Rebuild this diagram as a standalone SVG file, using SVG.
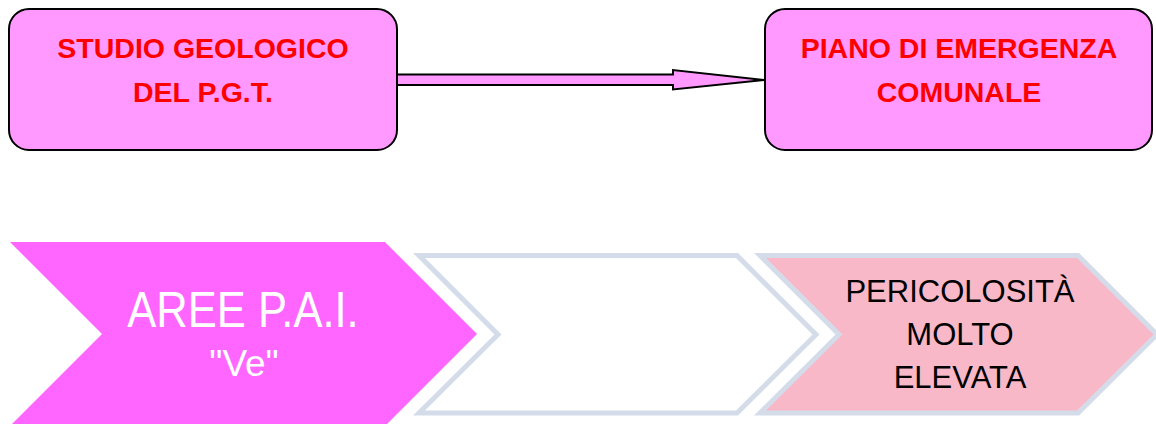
<svg xmlns="http://www.w3.org/2000/svg" width="1156" height="424" viewBox="0 0 1156 424">
<style>
.box{fill:#FF99FF;stroke:#000;stroke-width:2}
.btxt{font-family:"Liberation Sans",Arial,sans-serif;font-weight:bold;font-size:28.5px;fill:#FF0000;text-anchor:middle}
.chev{stroke:#D5DCE9;stroke-width:5;stroke-linejoin:miter}
.ctxt{font-family:"Liberation Sans",Arial,sans-serif;text-anchor:middle}
</style>
<rect width="1156" height="424" fill="#fff"/>
<g id="connectors">
<polygon points="397,74.5 673,74.5 673,70 764,80 673,89.5 673,85 397,85" fill="#FF99FF" stroke="#000" stroke-width="2" stroke-linejoin="miter"/>
</g>
<g id="studio">
<rect class="box" x="9" y="9" width="388" height="141" rx="20" ry="20"/>
<text class="btxt" x="203" y="58">STUDIO GEOLOGICO</text>
<text class="btxt" x="203" y="102">DEL P.G.T.</text>
</g>
<g id="piano">
<rect class="box" x="765" y="9" width="387" height="141" rx="20" ry="20"/>
<text class="btxt" x="959" y="58">PIANO DI EMERGENZA</text>
<text class="btxt" x="959" y="102">COMUNALE</text>
</g>
<g id="aree">
<polygon points="10,242 385,242 477,334 385,426 10,426 102,334" fill="#FF66FF"/>
<text class="ctxt" transform="translate(243,327) scale(0.87,1)" x="0" y="0" font-size="50" fill="#fff">AREE P.A.I.</text>
<text class="ctxt" x="244" y="376" font-size="37" fill="#fff">"Ve"</text>
</g>
<g id="vuoto">
<polygon class="chev" points="419,255.5 737,255.5 816,334.5 737,413 419,413 498,334.5" fill="#fff"/>
</g>
<g id="pericolosita">
<polygon class="chev" points="760,255.5 1078,255.5 1157,334.5 1078,413 760,413 839,334.5" fill="#F9B8C7"/>
<text class="ctxt" x="960" y="302" font-size="31" fill="#000">PERICOLOSITÀ</text>
<text class="ctxt" x="960" y="345" font-size="31" fill="#000">MOLTO</text>
<text class="ctxt" x="960" y="388" font-size="31" fill="#000">ELEVATA</text>
</g>
</svg>
